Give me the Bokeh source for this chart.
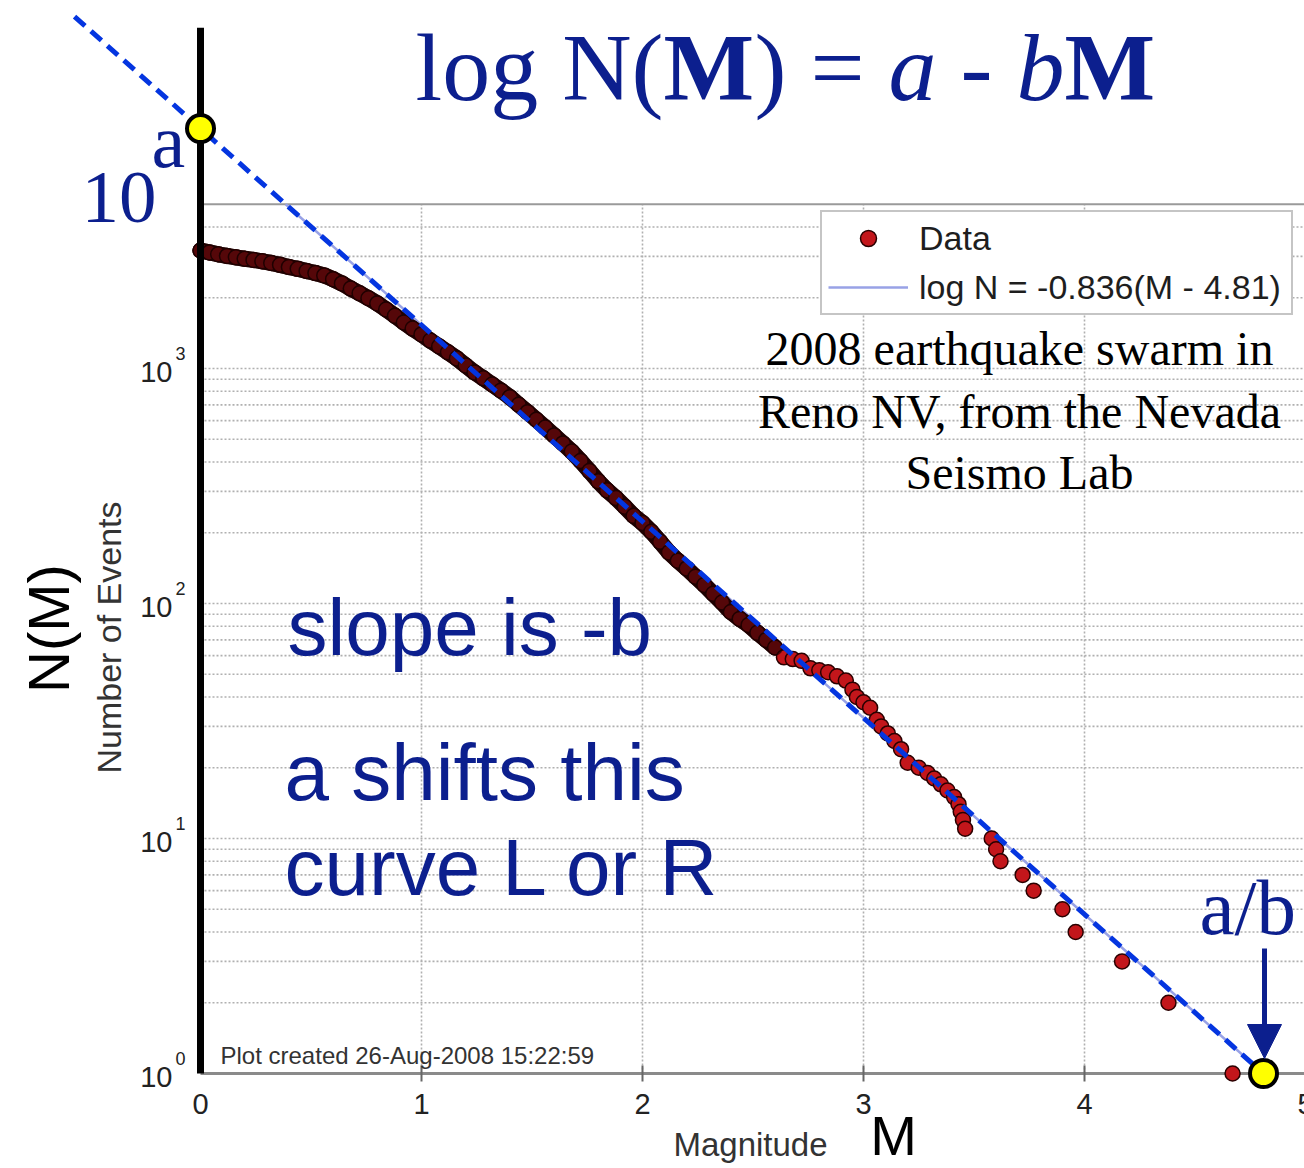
import math
from bokeh.plotting import figure
from bokeh.models import Label, Legend, LegendItem, Arrow, NormalHead, Range1d
from bokeh.embed import file_html
from bokeh.resources import INLINE
from bokeh.core.properties import value

# ---------------- data ----------------
magnitude = [0.00, 0.04, 0.08, 0.12, 0.16, 0.20, 0.24, 0.28, 0.32, 0.36,
             0.40, 0.44, 0.48, 0.52, 0.56, 0.60, 0.64, 0.68, 0.72, 0.76,
             0.80, 0.84, 0.88, 0.92, 0.96, 1.00, 1.04, 1.08, 1.12, 1.16,
             1.20, 1.24, 1.28, 1.32, 1.36, 1.40, 1.44, 1.48, 1.52, 1.56,
             1.60, 1.64, 1.68, 1.72, 1.76, 1.80, 1.84, 1.88, 1.92, 1.96,
             2.00, 2.04, 2.08, 2.12, 2.16, 2.20, 2.24, 2.28, 2.32, 2.36,
             2.40, 2.44, 2.48, 2.52, 2.56, 2.60, 2.64, 2.68, 2.72, 2.76,
             2.80, 2.84, 2.88, 2.92, 2.95, 2.97, 3.00, 3.03, 3.06, 3.08,
             3.11, 3.14, 3.17, 3.20, 3.25, 3.29, 3.32, 3.35, 3.38, 3.41,
             3.43, 3.44, 3.45, 3.46, 3.58, 3.60, 3.62, 3.72, 3.77, 3.90,
             3.96, 4.17, 4.38, 4.67]
n_events = [3177, 3119, 3062, 3013, 2972, 2931, 2897, 2858, 2812, 2761,
            2704, 2655, 2600, 2547, 2489, 2399, 2301, 2188, 2089, 1991,
            1892, 1782, 1675, 1570, 1479, 1396, 1315, 1242, 1172, 1104,
            1030, 962, 908, 855, 805, 755, 701, 652, 605, 561,
            519, 480, 443, 404, 366, 331, 303, 281, 258, 236,
            220, 202, 183, 165, 152, 141, 130, 120, 110, 101,
            92, 86, 81, 75, 70, 65, 59, 58, 57, 53,
            52, 51, 49, 47, 43, 40, 38, 36, 32, 30,
            28, 26, 24, 21, 20, 19, 18, 17, 16, 15,
            14, 13, 12, 11, 10, 9, 8, 7, 6, 5,
            4, 3, 2, 1]

fit_b = 0.836          # slope is -b
fit_m0 = 4.81          # a/b
fit_a = fit_b * fit_m0  # log10 N at M = 0
dash_start_m = -0.57   # where the hand-drawn dashed extension starts
band_min_n = 60        # above this the overlapping dots form a dark band

x_ticks = [0, 1, 2, 3, 4, 5]
x_tick_labels = ["0", "1", "2", "3", "4", "5"]
y_decades = [1, 10, 100, 1000]
y_exponents = ["0", "1", "2", "3"]
x_lim = (0, 5)
y_lim = (1, 5000)

legend_labels = ["Data", "log N = -%.3f(M - %.2f)" % (fit_b, fit_m0)]

# ---------------- layout helpers ----------------
W, H = 1304, 1168
PX_X = 221.0     # pixels per magnitude unit
PX_DEC = 235.0   # pixels per decade
X0_PX = 200.0    # screen x of M = 0
Y0_PX = 1073.0   # screen y (from top) of N = 1

NAVY = "#0c1f8e"


def fs(size):
    return "%dpx" % size


p = figure(width=W, height=H,
           x_range=Range1d(-X0_PX / PX_X, (W - X0_PX) / PX_X),
           y_range=Range1d(10 ** (-(H - Y0_PX) / PX_DEC), 10 ** (Y0_PX / PX_DEC)),
           y_axis_type="log", x_axis_location=None, y_axis_location=None,
           output_backend="svg", toolbar_location=None, min_border=0)
p.outline_line_color = None
p.background_fill_color = "white"
p.border_fill_color = "white"
for g in p.grid:
    g.visible = False

# ---------------- grid ----------------
minor_vals = []
for d in y_decades:
    for m in range(1, 10):
        v = m * d
        if y_lim[0] < v < y_lim[1]:
            minor_vals.append(v)
p.segment(x0=[x_lim[0]] * len(minor_vals), x1=[x_lim[1]] * len(minor_vals),
          y0=minor_vals, y1=minor_vals, line_color="#b0b0b0", line_width=1.6,
          line_dash="2 2")
inner_x = [t for t in x_ticks if x_lim[0] < t < x_lim[1]]
p.segment(x0=inner_x, x1=inner_x, y0=[y_lim[0]] * len(inner_x),
          y1=[y_lim[1]] * len(inner_x), line_color="#b0b0b0", line_width=1.6,
          line_dash="2 2")
# axes box
p.line(x=list(x_lim), y=[y_lim[1], y_lim[1]], line_color="#9a9a9a", line_width=2)
p.line(x=list(x_lim), y=[y_lim[0], y_lim[0]], line_color="#8a8a8a", line_width=3)
p.line(x=[x_lim[1], x_lim[1]], y=list(y_lim), line_color="#9a9a9a", line_width=2)
# tick marks along bottom
p.scatter(x=inner_x, y=[y_lim[0]] * len(inner_x), marker="dash", angle=math.pi / 2,
          size=16, line_color="#666666", line_width=2)

# ---------------- fit line (clipped to axes) ----------------
m_top = fit_m0 - math.log10(y_lim[1]) / fit_b
fit_r = p.line(x=[m_top, fit_m0], y=[y_lim[1], 1.0], line_color="#98a2e6",
               line_width=2.5)

# ---------------- data ----------------
band_idx = [i for i, n in enumerate(n_events) if n >= band_min_n]
p.line(x=[magnitude[i] for i in band_idx], y=[n_events[i] for i in band_idx],
       line_color="#2a0404", line_width=16, line_join="round", line_cap="round")
data_r = p.scatter(x=magnitude, y=n_events, size=15, fill_color="#c3161b",
                   line_color="#2a0000", line_width=1.5)
# dense part: overlapping dots read as a dark band
p.line(x=[magnitude[i] for i in band_idx], y=[n_events[i] for i in band_idx],
       line_color="#1a0000", line_alpha=0.65, line_width=16, line_join="round",
       line_cap="round")

# ---------------- hand-drawn annotations ----------------
p.line(x=[dash_start_m, fit_m0],
       y=[10 ** (fit_b * (fit_m0 - dash_start_m)), 1.0],
       line_color="#0435e0", line_width=5, line_dash="14 8")
p.line(x=[0, 0], y=[y_lim[0], 10 ** 4.45], line_color="black", line_width=7)
p.scatter(x=[0, fit_m0], y=[10 ** fit_a, 1.0], size=27, fill_color="#ffff00",
          line_color="black", line_width=4)

p.add_layout(Arrow(end=NormalHead(size=34, fill_color=NAVY, line_color=NAVY),
                   x_start=1264, y_start=H - 948, x_end=1264, y_end=H - 1058,
                   start_units="screen", end_units="screen",
                   line_color=NAVY, line_width=5))

# ---------------- tick labels ----------------
p.text(x=x_ticks, y=[y_lim[0]] * len(x_ticks), text=x_tick_labels,
       x_offset=0, y_offset=20, text_align="center", text_baseline="top",
       text_font=value("Liberation Sans"), text_font_size="29px", text_color="#222222")
p.text(x=[0] * len(y_decades), y=y_decades, text=["10"] * len(y_decades),
       x_offset=-28, y_offset=3, text_align="right", text_baseline="middle",
       text_font=value("Liberation Sans"), text_font_size="29px", text_color="#222222")
p.text(x=[0] * len(y_decades), y=y_decades, text=y_exponents,
       x_offset=-25, y_offset=-15, text_align="left", text_baseline="middle",
       text_font=value("Liberation Sans"), text_font_size="18px", text_color="#222222")


def add_label(text, rx, ry, size, font="Liberation Sans", color="black",
              style="normal", align="left", angle=0.0, on_baseline=True):
    # ry is the text baseline (or the centre if on_baseline is False)
    cy = ry - 0.35 * size if on_baseline else ry
    p.add_layout(Label(x=rx, y=H - cy, x_units="screen", y_units="screen",
                       text=text, text_font=font, text_font_size=fs(size),
                       text_color=color, text_font_style=style,
                       text_align=align, text_baseline="middle", angle=angle))


# axis titles
add_label("Magnitude", 750, 1156, 33, color="#333333", align="center")
add_label("Number of Events", 108, 637, 34, color="#333333", align="center",
          angle=math.pi / 2, on_baseline=False)
add_label("Plot created 26-Aug-2008 15:22:59", 220, 1055, 24, color="#333333",
          on_baseline=False)

# big labels
add_label("M", 893, 1155, 56, align="center")
add_label("N(M)", 48, 628, 58, align="center", angle=math.pi / 2, on_baseline=False)

# title  log N(M) = a - bM
title_parts = [("log N(", 415, "normal"), ("M", 663, "bold"), (")", 754, "normal"),
               ("=", 810, "normal"), ("a", 888, "italic"), ("-", 960, "normal"),
               ("b", 1016, "italic"), ("M", 1064, "bold")]
for txt, rx, st in title_parts:
    add_label(txt, rx, 101, 96, font="Liberation Serif", color=NAVY, style=st)

add_label("10", 81, 223, 75, font="Liberation Serif", color=NAVY)
add_label("a", 151, 167, 76, font="Liberation Serif", color=NAVY)
add_label("a/b", 1199, 935, 79, font="Liberation Serif", color=NAVY)

add_label("slope is -b", 287, 655, 80, color=NAVY)
add_label("a shifts this", 284, 800, 80, color=NAVY)
add_label("curve L or R", 284, 895, 80, color=NAVY)

for txt, ry in [("2008 earthquake swarm in", 365),
                ("Reno NV, from the Nevada", 428),
                ("Seismo Lab", 489)]:
    add_label(txt, 1019, ry, 48, font="Liberation Serif", color="black", align="center")

# ---------------- legend ----------------
legend = Legend(items=[LegendItem(label=legend_labels[0], renderers=[data_r]),
                       LegendItem(label=legend_labels[1], renderers=[fit_r])],
                location=(820, H - 315),
                label_text_font="Liberation Sans", label_text_font_size="34px",
                label_text_color="#1e1e1e",
                glyph_width=80, glyph_height=40, label_height=40, label_width=366,
                label_standoff=11, spacing=9, padding=6, margin=0,
                border_line_color="#8c8c8c", border_line_width=2,
                background_fill_color="white", background_fill_alpha=1.0)
p.add_layout(legend)

open("out.html", "w").write(file_html(p, INLINE))
